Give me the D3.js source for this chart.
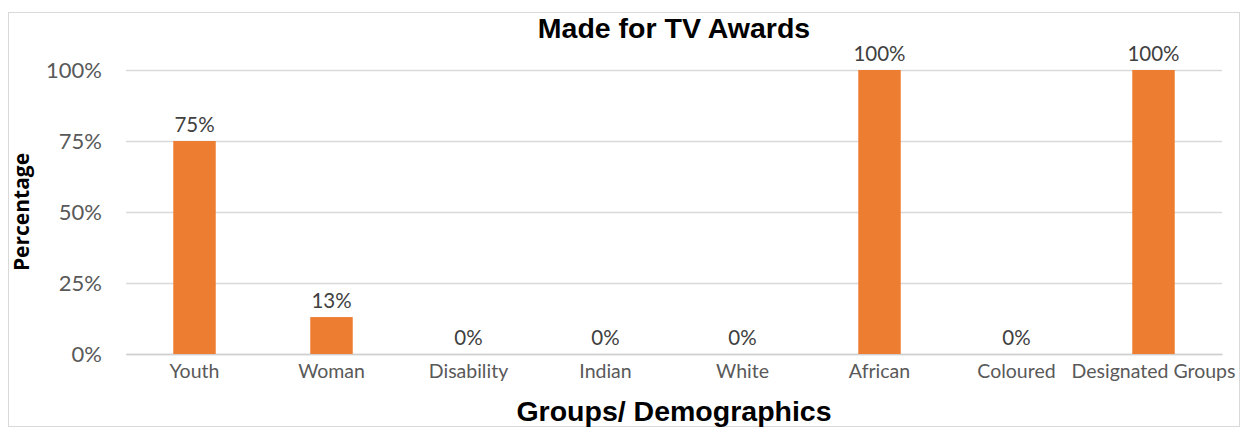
<!DOCTYPE html>
<html>
<head>
<meta charset="utf-8">
<script src="https://cdn.jsdelivr.net/npm/d3@7"></script>
<style>
  html, body { margin: 0; padding: 0; background: #fff; }
  svg { display: block; }
</style>
</head>
<body>
<svg id="chart"></svg>
<script>
// chart data
var categories = ["Youth", "Woman", "Disability", "Indian", "White", "African", "Coloured", "Designated Groups"];
var values = [0.75, 0.13, 0, 0, 0, 1, 0, 1];
var yTicks = [0, 0.25, 0.5, 0.75, 1];
var chartTitle = "Made for TV Awards";
var xTitle = "Groups/ Demographics";
var yTitle = "Percentage";

(function () {
  var W = 1241, H = 428;
  var m = { left: 126, right: 19, top: 70, bottom: 74 };
  var innerW = W - m.left - m.right;
  var innerH = H - m.top - m.bottom;
  var bodyFont = "Lato, 'Open Sans', sans-serif";
  var headFont = "'Liberation Sans', Arial, sans-serif";
  var labelColor = "#595959";

  var svg = d3.select("#chart").attr("width", W).attr("height", H);

  // outer frame
  svg.append("rect")
    .attr("x", 8.5).attr("y", 12.5)
    .attr("width", W - 10).attr("height", H - 14)
    .attr("fill", "#fff")
    .attr("stroke", "#d9d9d9");

  var x = d3.scaleBand().domain(categories).range([0, innerW]).paddingInner(0.69).paddingOuter(0.345);
  var y = d3.scaleLinear().domain([0, 1]).range([innerH, 0]);

  var g = svg.append("g").attr("transform", "translate(" + m.left + "," + m.top + ")");

  // gridlines + y labels
  var yAxis = d3.axisLeft(y).tickValues(yTicks).tickSize(-innerW).tickPadding(24)
    .tickFormat(d3.format(".0%"));
  var ya = g.append("g").call(yAxis);
  ya.select(".domain").remove();
  ya.selectAll(".tick line").attr("stroke", "#d9d9d9").attr("stroke-width", 1.5);
  ya.selectAll(".tick text")
    .attr("fill", labelColor)
    .style("font-family", bodyFont)
    .style("font-size", "22px");

  // x axis labels
  var xa = g.append("g").attr("transform", "translate(0," + innerH + ")")
    .call(d3.axisBottom(x).tickSize(0).tickPadding(10));
  xa.select(".domain").attr("stroke", "#d0d0d0").attr("stroke-width", 1.5);
  xa.selectAll(".tick text")
    .attr("fill", labelColor)
    .style("font-family", bodyFont)
    .style("font-size", "19.5px");

  // bars
  g.selectAll("rect.bar")
    .data(values)
    .join("rect")
    .attr("class", "bar")
    .attr("x", function (d, i) { return x(categories[i]); })
    .attr("y", function (d) { return y(d); })
    .attr("width", x.bandwidth())
    .attr("height", function (d) { return innerH - y(d); })
    .attr("fill", "#ed7d31");

  // data labels
  g.selectAll("text.val")
    .data(values)
    .join("text")
    .attr("class", "val")
    .attr("x", function (d, i) { return x(categories[i]) + x.bandwidth() / 2; })
    .attr("y", function (d) { return y(d) - 9; })
    .attr("text-anchor", "middle")
    .attr("fill", "#404040")
    .style("font-family", bodyFont)
    .style("font-size", "20.5px")
    .text(function (d) { return d3.format(".0%")(d); });

  // titles
  svg.append("text")
    .attr("x", 674).attr("y", 38)
    .attr("text-anchor", "middle")
    .style("font-family", headFont)
    .style("font-weight", "bold")
    .style("font-size", "28.5px")
    .attr("fill", "#000")
    .text(chartTitle);

  svg.append("text")
    .attr("x", 674).attr("y", 421)
    .attr("text-anchor", "middle")
    .style("font-family", headFont)
    .style("font-weight", "bold")
    .style("font-size", "28.5px")
    .attr("fill", "#000")
    .text(xTitle);

  svg.append("text")
    .attr("transform", "translate(29,212) rotate(-90)")
    .attr("text-anchor", "middle")
    .style("font-family", "'Open Sans', sans-serif")
    .style("font-weight", "bold")
    .style("font-size", "21px")
    .attr("fill", "#000")
    .text(yTitle);
})();
</script>
</body>
</html>
